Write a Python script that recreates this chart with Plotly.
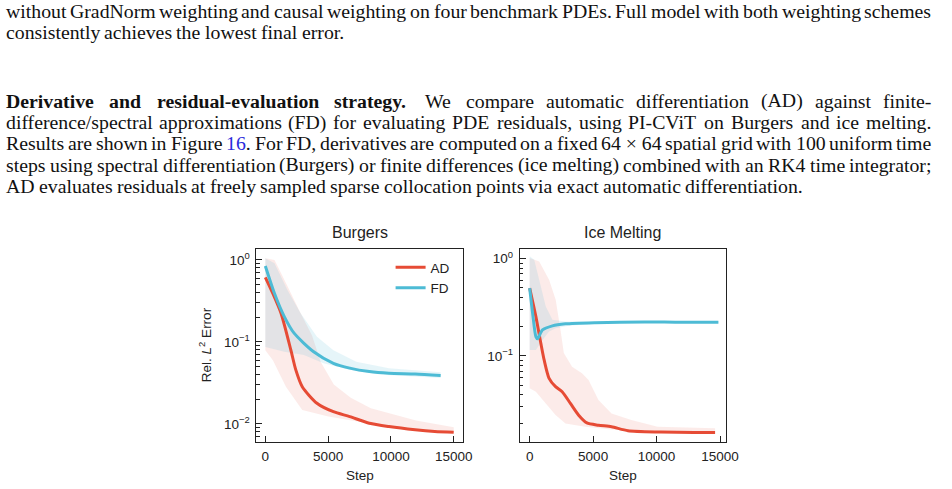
import plotly.graph_objects as go

# ------------------------------------------------------------------ data
# Burgers
burg_ad_step = [0, 600, 1250, 2030, 2420, 2940, 4110, 5420, 6720, 8280, 9840, 11930, 13490, 15000]
burg_ad_err = [0.615, 0.39, 0.224, 0.080, 0.046, 0.0285, 0.0179, 0.0141, 0.0123, 0.0102, 0.0093, 0.0085, 0.0081, 0.0079]
burg_ad_up_step = [0, 730, 1640, 2680, 3720, 4400, 5450, 6800, 8400, 10000, 12000, 15000]
burg_ad_up = [1.05, 1.0, 0.525, 0.245, 0.120, 0.0575, 0.0302, 0.0209, 0.0155, 0.0132, 0.011, 0.0091]
burg_ad_lo_step = [0, 600, 1640, 2940, 5020, 8150, 12060, 15000]
burg_ad_lo = [0.079, 0.060, 0.0285, 0.0148, 0.0123, 0.0102, 0.0085, 0.0078]

burg_fd_step = [0, 730, 1510, 2290, 3850, 5420, 6720, 8280, 9840, 11930, 13960]
burg_fd_err = [0.845, 0.39, 0.204, 0.128, 0.076, 0.055, 0.048, 0.0435, 0.0415, 0.0406, 0.039]
burg_fd_up_step = [0, 730, 1770, 2810, 4110, 5420, 7240, 9840, 13960]
burg_fd_up = [1.05, 0.91, 0.427, 0.224, 0.116, 0.0794, 0.0575, 0.0479, 0.0427]
burg_fd_lo_step = [0, 1510, 3070, 4630, 6720, 9320, 13960]
burg_fd_lo = [0.087, 0.0759, 0.0692, 0.055, 0.0457, 0.0398, 0.0363]

# Ice melting
ice_ad_step = [0, 490, 880, 1140, 1530, 2040, 2560, 3210, 3860, 4510, 5420, 6450, 7750, 10340, 12930, 14610]
ice_ad_err = [0.499, 0.254, 0.135, 0.091, 0.0589, 0.0483, 0.0428, 0.0325, 0.0246, 0.0205, 0.0194, 0.0187, 0.0170, 0.0165, 0.0163, 0.0163]
ice_ad_up_step = [0, 750, 1530, 2050, 2430, 2690, 3340, 4120, 4640, 5420, 6450, 8010, 10080, 14610]
ice_ad_up = [1.02, 0.938, 0.608, 0.378, 0.185, 0.107, 0.0776, 0.0664, 0.0566, 0.0352, 0.0256, 0.0219, 0.0187, 0.018]
ice_ad_lo_step = [0, 490, 1270, 2040, 2820, 4380, 6450, 9040, 14610]
ice_ad_lo = [0.0465, 0.0429, 0.0325, 0.0247, 0.0202, 0.0187, 0.0175, 0.0166, 0.0160]

ice_fd_step = [0, 233, 490, 620, 1010, 1790, 2820, 5150, 9040, 11630, 14870]
ice_fd_err = [0.499, 0.275, 0.158, 0.150, 0.185, 0.204, 0.214, 0.220, 0.224, 0.222, 0.222]
ice_fd_up_step = [0, 360, 750, 1270, 1790, 2820, 5150, 9040, 14870]
ice_fd_up = [1.06, 0.977, 0.608, 0.322, 0.235, 0.226, 0.225, 0.229, 0.227]
ice_fd_lo_step = [0, 490, 1010, 1530, 2040, 3080, 5150, 9040, 14870]
ice_fd_lo = [0.115, 0.115, 0.146, 0.178, 0.193, 0.204, 0.215, 0.219, 0.217]

x_tick_vals = [0, 5000, 10000, 15000]
x_tick_text = ["0", "5000", "10000", "15000"]
y_tick_vals = [1, 0.1, 0.01]
y_tick_text = ["10<sup>0</sup>", "10<sup>\u22121</sup>", "10<sup>\u22122</sup>"]
panel_titles = ["Burgers", "Ice Melting"]
series_names = ["AD", "FD"]

# paragraph text
para_lines = [
    ("without GradNorm weighting and causal weighting on four benchmark PDEs. Full model with both weighting schemes", True, 17.3),
    ("consistently achieves the lowest final error.", False, 38.5),
    ("*Derivative| *and| *residual-evaluation| *strategy.|| We compare automatic differentiation (AD) against finite-", True, 107.6),
    ("difference/spectral approximations (FD) for evaluating PDE residuals, using PI-CViT on Burgers and ice melting.", True, 128.8),
    ("Results are shown in Figure @16. For FD, derivatives are computed on a fixed 64\u00a0\u00d7\u00a064 spatial grid with 100 uniform time", True, 150.0),
    ("steps using spectral differentiation (Burgers) or finite differences (ice melting) combined with an RK4 time integrator;", True, 171.2),
    ("AD evaluates residuals at freely sampled sparse collocation points via exact automatic differentiation.", False, 192.4),
]

# ------------------------------------------------------------------ layout helpers
W, H = 952, 489
def px(x):
    return x / W
def py(y):
    return 1 - y / H

RED = "#E64B35"
CYAN = "#4DBBD5"
RED_BAND = "rgba(230,75,53,0.11)"
CYAN_BAND = "rgba(77,187,213,0.14)"
AXC = "#222222"
SANS = "Liberation Sans, Arial, Helvetica, sans-serif"
SERIF = "Liberation Serif, Times New Roman, serif"

fig = go.Figure()

def band(xu, yu, xl, yl, color, xa, ya):
    fig.add_trace(go.Scatter(
        x=list(xu) + list(xl)[::-1], y=list(yu) + list(yl)[::-1],
        fill="toself", fillcolor=color, mode="lines", line=dict(width=0),
        hoverinfo="skip", showlegend=False, xaxis=xa, yaxis=ya))

def line(xs, ys, color, name, show, xa, ya):
    fig.add_trace(go.Scatter(
        x=xs, y=ys, mode="lines", name=name, showlegend=show,
        line=dict(color=color, width=3, shape="spline", smoothing=0.7),
        xaxis=xa, yaxis=ya))

band(burg_ad_up_step, burg_ad_up, burg_ad_lo_step, burg_ad_lo, RED_BAND, "x", "y")
band(burg_fd_up_step, burg_fd_up, burg_fd_lo_step, burg_fd_lo, CYAN_BAND, "x", "y")
band(ice_ad_up_step, ice_ad_up, ice_ad_lo_step, ice_ad_lo, RED_BAND, "x2", "y2")
band(ice_fd_up_step, ice_fd_up, ice_fd_lo_step, ice_fd_lo, CYAN_BAND, "x2", "y2")
line(burg_ad_step, burg_ad_err, RED, series_names[0], True, "x", "y")
line(burg_fd_step, burg_fd_err, CYAN, series_names[1], True, "x", "y")
line(ice_ad_step, ice_ad_err, RED, series_names[0], False, "x2", "y2")
line(ice_fd_step, ice_fd_err, CYAN, series_names[1], False, "x2", "y2")

minor_vals = [m * 10.0 ** e for e in (-3, -2, -1, 0) for m in range(2, 10)]

def common():
    return dict(showline=True, linecolor=AXC, linewidth=1, mirror=True,
                ticks="inside", ticklen=6, tickwidth=1, tickcolor=AXC,
                showgrid=False, zeroline=False,
                tickfont=dict(family=SANS, size=13.5, color=AXC))

def xax(domain, rng, anchor):
    d = common()
    d.update(domain=domain, range=rng, tickmode="array", tickvals=x_tick_vals,
             ticktext=x_tick_text, anchor=anchor, ticklabelstandoff=2)
    return d

def yax(domain, rng, anchor):
    d = common()
    d.update(domain=domain, type="log", range=rng, tickmode="array",
             tickvals=y_tick_vals, ticktext=y_tick_text, anchor=anchor,
             ticklabelstandoff=3,
             minor=dict(tickmode="array", tickvals=minor_vals, ticks="inside",
                        ticklen=3.5, tickwidth=1, tickcolor=AXC, showgrid=False))
    return d

fig.update_layout(
    width=W, height=H, margin=dict(l=0, r=0, t=0, b=0),
    paper_bgcolor="white", plot_bgcolor="white",
    xaxis=xax([px(260), px(469)], [-707, 15707], "y"),
    yaxis=yax([py(442), py(249)], [-2.22, 0.134], "x"),
    xaxis2=xax([px(527), px(736)], [-777, 15466], "y2"),
    yaxis2=yax([py(442), py(249)], [-1.885, 0.10], "x2"),
    legend=dict(x=px(396), y=py(252), xanchor="left", yanchor="top",
                bgcolor="rgba(0,0,0,0)", borderwidth=0, itemwidth=30,
                font=dict(family=SANS, size=13.5, color=AXC), tracegroupgap=0),
    showlegend=True,
)

ann = []
def txt(text, x, y, size, **kw):
    d = dict(text=text, x=px(x), y=py(y), xref="paper", yref="paper",
             xanchor="center", yanchor="middle",
             showarrow=False, font=dict(family=SANS, size=size, color=AXC),
             borderpad=0, borderwidth=0)
    d.update(kw)
    ann.append(d)

txt(panel_titles[0], 364.5, 232, 16)
txt(panel_titles[1], 631.5, 232, 16)
txt("Step", 364.5, 475, 13.5)
txt("Step", 631.5, 475, 13.5)
txt("Rel. <i>L</i><sup>2</sup> Error", 208, 345, 13.5, textangle=-90)

# ---------------------------------------------------------------- paragraph text (justified)
TR = dict(zip(" !()*,-./0123456789:;", [250, 333, 333, 333, 500, 250, 333, 250, 278] + [500] * 10 + [278, 278]))
TR.update(dict(zip("ABCDEFGHIJKLMNOPQRSTUVWXYZ",
                   [722, 667, 667, 722, 611, 556, 722, 722, 333, 389, 722, 611, 889, 722, 722, 556, 722, 667, 556, 611, 722, 722, 944, 722, 722, 611])))
TR.update(dict(zip("abcdefghijklmnopqrstuvwxyz",
                   [444, 500, 444, 500, 444, 333, 500, 500, 278, 278, 500, 278, 778, 500, 500, 500, 500, 333, 389, 278, 500, 500, 722, 500, 500, 444])))
TR["\u00d7"] = 564
TR["\u00a0"] = 250
TB = dict(TR)
TB.update(dict(zip("abcdefghijklmnopqrstuvwxyz",
                   [500, 556, 444, 556, 444, 333, 500, 556, 278, 333, 556, 278, 833, 556, 500, 556, 556, 444, 389, 333, 556, 500, 722, 500, 500, 444])))
TB["D"] = 722

FS = 19.8
X0, X1 = 6.0, 944.0
LINK = "#2b2bdc"

for text, justify, base in para_lines:
    toks = text.split(" ")
    items = []
    for t in toks:
        gapw = 1.0
        while t.endswith("|"):
            t = t[:-1]
            gapw += 0.25
        if t.startswith("*"):
            plain = t[1:]
            width = sum(TB.get(c, 500) for c in plain) / 1000 * FS
            html = "<b>" + plain + "</b>"
        elif t.startswith("@"):
            plain = t[1:]
            width = sum(TR.get(c, 500) for c in plain) / 1000 * FS
            html = '<span style="color:%s">%s</span>%s' % (LINK, plain.rstrip("."), "." if plain.endswith(".") else "")
        else:
            plain = t
            width = sum(TR.get(c, 500) for c in plain) / 1000 * FS
            html = plain
        items.append([html, width, gapw])
    yc = base - 0.3375 * FS
    if justify:
        total = sum(i[1] for i in items)
        wsum = sum(i[2] for i in items[:-1])
        unit = (X1 - X0 - total) / wsum
    else:
        unit = 0.25 * FS
    x = X0
    for k, (html, width, gapw) in enumerate(items):
        last = justify and k == len(items) - 1
        ann.append(dict(text=html, x=px(X1 if last else x), y=py(yc), xref="paper", yref="paper",
                        xanchor="right" if last else "left", yanchor="middle", showarrow=False,
                        borderpad=0, borderwidth=0,
                        font=dict(family=SERIF, size=FS, color="#111111")))
        x += width + unit * gapw

fig.update_layout(annotations=ann)
fig.write_html("out.html")
